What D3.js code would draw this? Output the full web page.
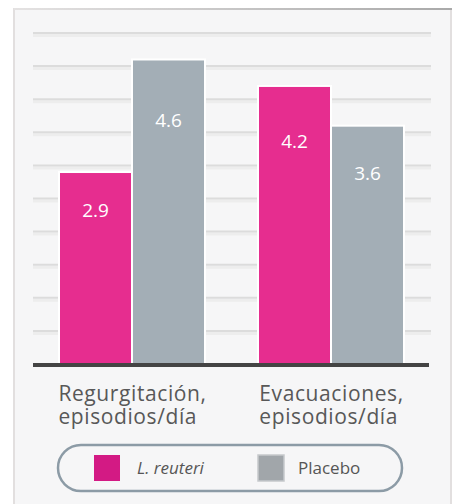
<!DOCTYPE html>
<html>
<head>
<meta charset="utf-8" />
<title>L. reuteri vs Placebo</title>
<script src="https://d3js.org/d3.v7.min.js"></script>
<style>
  body { margin: 0; background: #fff; }
  svg { display: block; font-family: "Open Sans", sans-serif; }
</style>
</head>
<body>
<svg id="chart" width="454" height="504"></svg>
<script>
// data
var categories = ["Regurgitación, episodios/día", "Evacuaciones, episodios/día"];
var series = ["L. reuteri", "Placebo"];
var reuteriValues = [2.9, 4.2];
var placeboValues = [4.6, 3.6];
var gridTicks = [0, 0.5, 1, 1.5, 2, 2.5, 3, 3.5, 4, 4.5, 5];

var barColor = { "L. reuteri": "#e62d8f", "Placebo": "#a3aeb6" };
var swatchColor = { "L. reuteri": "#d31a84", "Placebo": "#a1a6aa" };

var rows = categories.map(function (c, i) {
    return { cat: c, vals: [
        { s: "L. reuteri", v: reuteriValues[i] },
        { s: "Placebo", v: placeboValues[i] }
    ] };
});

var svg = d3.select("#chart");

// panel background
var bg = svg.append("defs").append("linearGradient")
    .attr("id", "topEdge").attr("x1", 0).attr("x2", 1);
bg.append("stop").attr("offset", "0").attr("stop-color", "#e4e2e2");
bg.append("stop").attr("offset", "1").attr("stop-color", "#a9a9a9");

svg.append("rect")
    .attr("x", 14).attr("y", 9).attr("width", 437).attr("height", 500)
    .attr("fill", "#f6f6f7")
    .attr("stroke", "#e2dfdf").attr("stroke-width", 2);
svg.append("rect")
    .attr("x", 14).attr("y", 8).attr("width", 438).attr("height", 2)
    .attr("fill", "url(#topEdge)");

var margin = { left: 33, right: 23, top: 33, bottom: 139 };
var width = 454 - margin.left - margin.right,
    height = 504 - margin.top - margin.bottom;

var g = svg.append("g").attr("transform", "translate(" + margin.left + "," + margin.top + ")");

var x0 = d3.scaleBand().domain(categories).range([0, width]);
var x1 = d3.scaleBand().domain(series).range([26, x0.bandwidth() - 27]).padding(0);
var y = d3.scaleLinear().domain([0, 5]).range([height - 1, 0]);

// gridlines
var grid = g.append("g").attr("class", "grid");
grid.selectAll("line.shade")
    .data(gridTicks.slice(1))
    .enter().append("line")
    .attr("class", "shade")
    .attr("x1", 0).attr("x2", width)
    .attr("y1", function (d) { return y(d) + 2.5; })
    .attr("y2", function (d) { return y(d) + 2.5; })
    .attr("stroke", "#ededed").attr("stroke-width", 3);
grid.selectAll("line.main")
    .data(gridTicks.slice(1))
    .enter().append("line")
    .attr("class", "main")
    .attr("x1", 0).attr("x2", width)
    .attr("y1", function (d) { return y(d); })
    .attr("y2", function (d) { return y(d); })
    .attr("stroke", "#dcdcdc").attr("stroke-width", 2);

// bars
var groups = g.selectAll("g.group")
    .data(rows)
    .enter().append("g")
    .attr("class", "group")
    .attr("transform", function (d) { return "translate(" + x0(d.cat) + ",0)"; });

groups.selectAll("rect")
    .data(function (d) { return d.vals; })
    .enter().append("rect")
    .attr("x", function (d) { return x1(d.s); })
    .attr("y", function (d) { return y(d.v); })
    .attr("width", x1.bandwidth())
    .attr("height", function (d) { return y(0) - y(d.v); })
    .attr("fill", function (d) { return barColor[d.s]; })
    .attr("stroke", "#ffffff").attr("stroke-width", 2);

groups.selectAll("text.val")
    .data(function (d) { return d.vals; })
    .enter().append("text")
    .attr("class", "val")
    .attr("x", function (d) { return x1(d.s) + x1.bandwidth() / 2; })
    .attr("y", function (d) { return y(d.v * 0.8); })
    .attr("dy", "0.35em")
    .attr("text-anchor", "middle")
    .attr("fill", "#ffffff")
    .attr("font-size", 19)
    .attr("font-weight", 500)
    .text(function (d) { return d.v.toFixed(1); });

// baseline
g.append("line")
    .attr("x1", 0).attr("x2", width - 2)
    .attr("y1", y(0) + 1).attr("y2", y(0) + 1)
    .attr("stroke", "#444444").attr("stroke-width", 4);

// category labels (two lines, left aligned, first line centred on group)
groups.each(function (d) {
    var parts = d.cat.split(" ");
    var grp = d3.select(this);
    var l1 = grp.append("text")
        .attr("class", "cat")
        .attr("y", height + 36)
        .text(parts[0]);
    var l2 = grp.append("text")
        .attr("class", "cat")
        .attr("y", height + 59)
        .text(parts[1]);
    grp.selectAll("text.cat")
        .attr("font-size", 21)
        .attr("letter-spacing", 0.6)
        .attr("fill", "#585858");
    var w = l1.node().getComputedTextLength();
    var sx = x0.bandwidth() / 2 - w / 2;
    grp.selectAll("text.cat").attr("x", sx);
});

// legend
var legend = svg.append("g").attr("transform", "translate(58,445)");
legend.append("rect")
    .attr("x", 0).attr("y", 0).attr("width", 344).attr("height", 46)
    .attr("rx", 23).attr("ry", 23)
    .attr("fill", "none")
    .attr("stroke", "#8c9ba6").attr("stroke-width", 2.5);

var lx = d3.scaleOrdinal().domain(series).range([36, 200]);
var items = legend.selectAll("g.item")
    .data(series)
    .enter().append("g")
    .attr("class", "item")
    .attr("transform", function (d) { return "translate(" + lx(d) + ",10)"; });
items.append("rect")
    .attr("width", 26).attr("height", 26)
    .attr("fill", function (d) { return swatchColor[d]; })
    .attr("stroke", function (d) { return d === "Placebo" ? "#c6c9cc" : "none"; })
    .attr("stroke-width", 1.5);
items.append("text")
    .attr("x", function (d) { return d === "Placebo" ? 40 : 43; })
    .attr("y", 13)
    .attr("dy", "0.35em")
    .attr("font-size", 17)
    .attr("fill", "#555555")
    .attr("font-style", function (d) { return d === "Placebo" ? "normal" : "italic"; })
    .text(function (d) { return d; });
</script>
</body>
</html>
